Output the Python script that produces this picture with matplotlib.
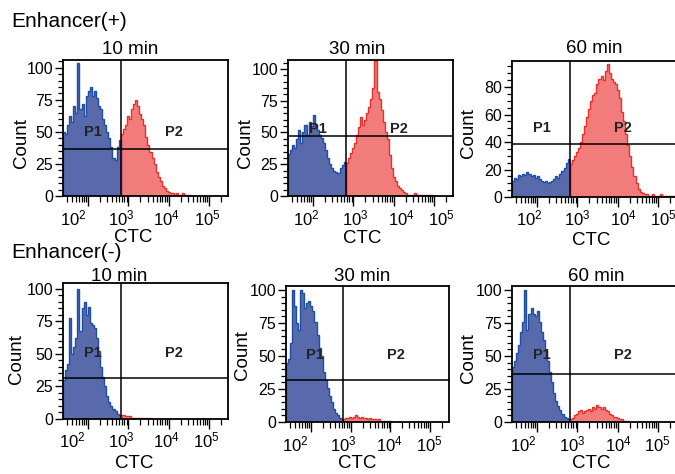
import numpy as np
import matplotlib
matplotlib.use("Agg")
import matplotlib.pyplot as plt
from matplotlib.ticker import FixedLocator, LogLocator, MultipleLocator, NullFormatter

plt.rcParams['font.family'] = ['Liberation Sans', 'DejaVu Sans']
plt.rcParams['mathtext.fontset'] = 'custom'
plt.rcParams['mathtext.rm'] = 'Liberation Sans'
plt.rcParams['mathtext.it'] = 'Liberation Sans:italic'
plt.rcParams['mathtext.bf'] = 'Liberation Sans:bold'

# ---------------- data ----------------
row_labels = ["Enhancer(+)", "Enhancer(-)"]
times = ["10 min", "30 min", "60 min"]
tick_values = [1e2, 1e3, 1e4, 1e5]
tick_labels = ["$10^{2}$", "$10^{3}$", "$10^{4}$", "$10^{5}$"]

# histogram counts, P1 (blue, below gate) and P2 (red, above gate)
enh_10_p1 = [50, 48, 55, 62, 58, 70, 65, 104, 68, 72, 62, 78, 82, 85, 78, 82, 76, 70, 68, 60, 55, 50, 45, 38, 30, 28, 38, 44]
enh_10_p2 = [48, 52, 55, 62, 60, 68, 72, 75, 70, 64, 60, 55, 46, 40, 34, 30, 25, 19, 15, 12, 8, 6, 4, 3, 2, 2, 1, 2, 1, 1, 2, 1, 1, 1, 0]
enh_30_p1 = [33, 36, 40, 38, 45, 52, 42, 50, 56, 48, 58, 55, 64, 55, 52, 48, 46, 42, 36, 30, 25, 22, 20, 19, 18, 22, 24, 27]
enh_30_p2 = [26, 30, 34, 38, 42, 48, 54, 62, 56, 60, 65, 70, 76, 85, 106, 82, 76, 68, 58, 50, 45, 32, 22, 15, 12, 8, 6, 5, 3, 2,
             1, 1, 1, 2, 1, 1, 1, 1, 1, 1, 1, 1, 0]
enh_60_p1 = [12, 14, 13, 16, 15, 17, 16, 18, 17, 15, 16, 14, 15, 13, 12, 11, 12, 10, 11, 12, 13, 15, 14, 17, 19, 21, 25, 28]
enh_60_p2 = [24, 27, 30, 33, 36, 40, 46, 52, 58, 64, 70, 74, 76, 82, 86, 88, 85, 92, 97, 90, 86, 84, 82, 78, 72, 62, 55, 46,
             38, 30, 22, 15, 10, 6, 4, 3, 2, 2, 1, 1, 2, 1, 1, 1, 2, 1, 1, 1, 1, 1, 1, 1]
noenh_10_p1 = [30, 38, 42, 78, 50, 55, 62, 100, 68, 85, 90, 80, 86, 74, 72, 70, 62, 52, 40, 32, 25, 18, 13, 10, 8, 6, 4, 3]
noenh_10_p2 = [3, 3, 2, 2, 2, 1, 1, 1, 1, 1, 1, 1, 1, 1, 1, 0]
noenh_30_p1 = [45, 48, 60, 100, 88, 75, 70, 100, 98, 86, 90, 92, 88, 84, 76, 66, 56, 50, 38, 32, 26, 20, 15, 10, 7, 5, 3, 2]
noenh_30_p2 = [2, 3, 3, 4, 3, 4, 5, 4, 3, 4, 3, 3, 2, 3, 2, 2, 2, 2, 1, 1, 1, 1, 1, 1, 0]
noenh_60_p1 = [42, 46, 52, 58, 68, 76, 100, 70, 82, 86, 82, 80, 84, 76, 68, 62, 54, 46, 38, 30, 22, 16, 12, 9, 6, 4, 3, 2]
noenh_60_p2 = [2, 3, 5, 6, 8, 9, 7, 8, 9, 10, 8, 11, 10, 13, 11, 10, 11, 9, 8, 6, 5, 4, 4, 3, 2, 2, 1, 1, 1, 0]

# horizontal gate (count level) per panel
hgate = [37, 47, 38.5, 31.5, 31.6, 36]

series = [(enh_10_p1, enh_10_p2), (enh_30_p1, enh_30_p2), (enh_60_p1, enh_60_p2),
          (noenh_10_p1, noenh_10_p2), (noenh_30_p1, noenh_30_p2), (noenh_60_p1, noenh_60_p2)]

# ---------------- layout / style ----------------
W, H = 675, 474
XMIN, XMAX, GATE, STEP = 1.38, 5.47, 2.81, 0.051
BLUE_FILL, BLUE_LINE = '#5869ac', '#1f4fa5'
RED_FILL, RED_LINE = '#f27c7c', '#e8302b'

# pixel boxes (left, top, right, bottom)
boxes = [(63, 60, 228, 196), (288, 60, 453, 196), (512, 61, 677, 197),
         (63, 283, 228, 419), (286, 286, 449, 422), (512, 286, 677, 422)]
ymax = [106, 107, 99, 104.6, 103, 103]
ystep = [25, 25, 20, 25, 25, 25]
title_pos = [(0.41, 1.08), (0.42, 1.08), (0.50, 1.09), (0.34, 1.048), (0.47, 1.07), (0.51, 1.07)]
count_pos = [(21.5, 143), (245, 143), (468, 133), (17, 359), (242.5, 355), (468, 358)]
ctc_pos = [(133, 237), (362, 239), (591, 240), (134, 464), (357, 464), (591, 463)]
xlab_px = [(10, 58, 103, 144.5), (18, 67, 113, 153), (17, 65, 111, 151),
           (9, 58, 103, 143), (9, 57, 103, 143), (11.7, 60, 106, 145)]

fig = plt.figure(figsize=(W / 100, H / 100), dpi=100)
fig.patch.set_facecolor('white')

for k, (box, (p1, p2)) in enumerate(zip(boxes, series)):
    l, t, r, b = box
    ax = fig.add_axes([l / W, 1 - b / H, (r - l) / W, (b - t) / H])
    ax.set_xscale('log')
    ax.set_xlim(10 ** XMIN, 10 ** XMAX)
    ax.set_ylim(0, ymax[k])

    e1 = 10 ** np.linspace(XMIN, GATE, len(p1) + 1)
    e2 = 10 ** (GATE + STEP * np.arange(len(p2) + 1))
    ax.stairs(p1, e1, fill=True, facecolor=BLUE_FILL, edgecolor='none', zorder=1)
    ax.stairs(p1, e1, color=BLUE_LINE, lw=1.0, zorder=2)
    ax.stairs(p2, e2, fill=True, facecolor=RED_FILL, edgecolor='none', zorder=1)
    ax.stairs(p2, e2, color=RED_LINE, lw=1.0, zorder=2)

    ax.axvline(10 ** GATE, color='black', lw=1.1, zorder=3)
    ax.axhline(hgate[k], color='black', lw=1.1, zorder=3)

    ylab = 51 if k >= 3 else (53 if k == 1 else 50)
    ax.text(10 ** 2.11, ylab, 'P1', ha='center', va='center', fontsize=10.5, fontweight='bold', color='#222222', zorder=4)
    ax.text(10 ** 4.14, ylab, 'P2', ha='center', va='center', fontsize=10.5, fontweight='bold', color='#222222', zorder=4)

    ax.xaxis.set_major_locator(FixedLocator(tick_values))
    ax.xaxis.set_minor_locator(LogLocator(base=10, subs=np.arange(2, 10), numticks=20))
    ax.xaxis.set_major_formatter(NullFormatter())
    ax.xaxis.set_minor_formatter(NullFormatter())
    ax.yaxis.set_major_locator(MultipleLocator(ystep[k]))
    ax.yaxis.set_minor_locator(MultipleLocator(5))
    ax.tick_params(axis='x', which='major', direction='out', length=7, width=1.0)
    ax.tick_params(axis='x', which='minor', direction='out', length=4, width=0.9)
    ax.tick_params(axis='y', which='major', direction='out', length=6, width=1.0, labelsize=11.5, pad=1)
    ax.tick_params(axis='y', which='minor', direction='out', length=3.5, width=0.9)
    for s in ax.spines.values():
        s.set_linewidth(1.3)

    width = r - l
    for pos, lab in zip(xlab_px[k], tick_labels):
        ax.text(pos / width, -12 / (b - t), lab, transform=ax.transAxes,
                ha='center', va='top', fontsize=12)

    tx, ty = title_pos[k]
    ax.text(tx, ty, times[k % 3], transform=ax.transAxes, ha='center', va='center', fontsize=13.5)

    cx, cy = count_pos[k]
    fig.text(cx / W, 1 - cy / H, 'Count', rotation=90, ha='center', va='center', fontsize=13.5)
    gx, gy = ctc_pos[k]
    fig.text(gx / W, 1 - gy / H, 'CTC', ha='center', va='center', fontsize=13.5)

fig.text(11 / W, 1 - 21.5 / H, row_labels[0], ha='left', va='center', fontsize=15)
fig.text(11 / W, 1 - 252 / H, row_labels[1], ha='left', va='center', fontsize=15)

fig.savefig('out.png', dpi=100)
